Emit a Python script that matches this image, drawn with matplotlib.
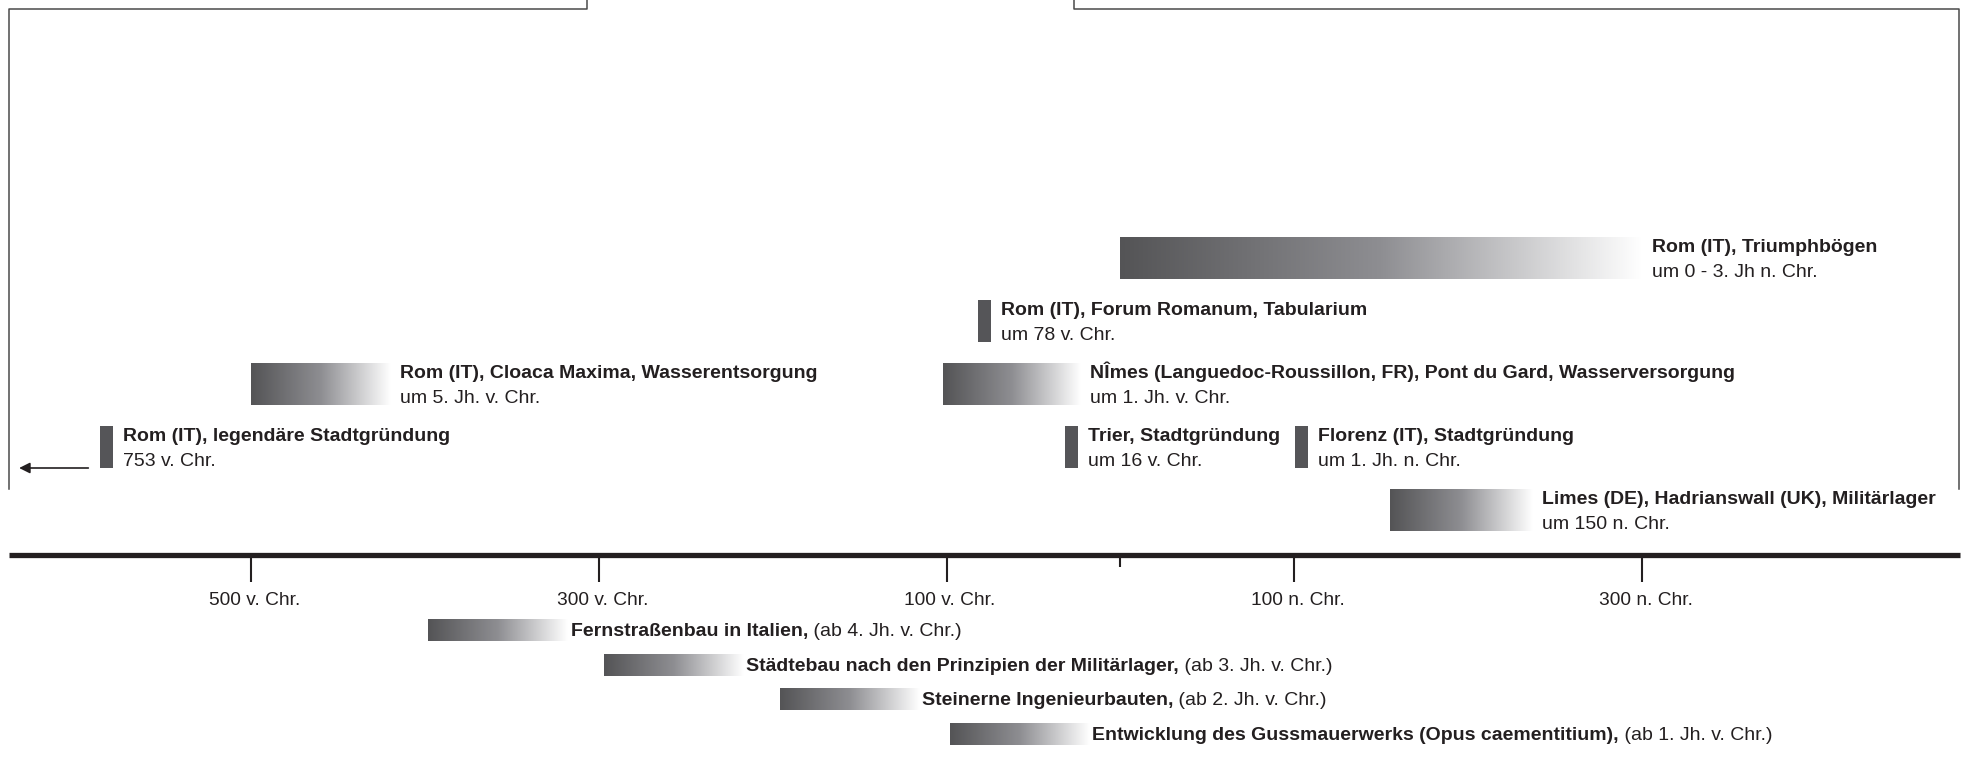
import matplotlib.pyplot as plt
import matplotlib.transforms as mtransforms
import numpy as np
from matplotlib.colors import LinearSegmentedColormap
from matplotlib.lines import Line2D

plt.rcParams["font.family"] = ["Liberation Sans", "DejaVu Sans"]

# events above the time line (negative = v. Chr.)
titles = [
    "Rom (IT), legendäre Stadtgründung",
    "Rom (IT), Cloaca Maxima, Wasserentsorgung",
    "Rom (IT), Forum Romanum, Tabularium",
    "NÎmes (Languedoc-Roussillon, FR), Pont du Gard, Wasserversorgung",
    "Trier, Stadtgründung",
    "Florenz (IT), Stadtgründung",
    "Rom (IT), Triumphbögen",
    "Limes (DE), Hadrianswall (UK), Militärlager",
]
dates = [
    "753 v. Chr.",
    "um 5. Jh. v. Chr.",
    "um 78 v. Chr.",
    "um 1. Jh. v. Chr.",
    "um 16 v. Chr.",
    "um 1. Jh. n. Chr.",
    "um 0 - 3. Jh n. Chr.",
    "um 150 n. Chr.",
]
starts = [-583, -500, -78, -102, -28, 104, 0, 155]
ends = [None, -420, None, -23, None, None, 300, 237]   # None = single point
levels = [1, 2, 3, 2, 1, 1, 4, 0]
off_scale = [True, False, False, False, False, False, False, False]

# developments below the time line
dev_titles = [
    "Fernstraßenbau in Italien,",
    "Städtebau nach den Prinzipien der Militärlager,",
    "Steinerne Ingenieurbauten,",
    "Entwicklung des Gussmauerwerks (Opus caementitium),",
]
dev_notes = [
    "(ab 4. Jh. v. Chr.)",
    "(ab 3. Jh. v. Chr.)",
    "(ab 2. Jh. v. Chr.)",
    "(ab 1. Jh. v. Chr.)",
]
dev_starts = [-398, -297, -196, -98]
dev_ends = [-318, -217, -116, -18]

tick_years = [-500, -300, -100, 100, 300]
tick_labels = ["500 v. Chr.", "300 v. Chr.", "100 v. Chr.", "100 n. Chr.", "300 n. Chr."]

W, H = 1967, 758
fig = plt.figure(figsize=(W / 100, H / 100), dpi=100)
ax = fig.add_axes([0, 0, 1, 1])
ax.set_xlim(-644.4, 486.9)
ax.set_ylim(H, 0)   # vertical layout in pixels
ax.axis("off")

ink = "#231f20"
bar_col = "#555558"
grad = LinearSegmentedColormap.from_list("fade", ["#545456", "#8e8e92", "#ffffff"])
ramp = np.linspace(0, 1, 256).reshape(1, -1)
txt_off = mtransforms.offset_copy(ax.transData, fig, x=10, units="dots")
dev_off = mtransforms.offset_copy(ax.transData, fig, x=3, units="dots")
fs = 14

axis_y = 555
row_gap = 63
bar_h = 42

# frame lines at the top
def px_line(xs, ys):
    fig.add_artist(Line2D([x / W for x in xs], [1 - y / H for y in ys],
                          transform=fig.transFigure, color="#4a4a4a", lw=1.1))

px_line([587, 587, 9, 9], [0, 9, 9, 489])
px_line([1074, 1074, 1959, 1959], [0, 9, 9, 489])

# time axis
ax.plot([-639, 482.9], [axis_y, axis_y], color=ink, lw=3.8, solid_capstyle="butt")
ax.vlines(tick_years, axis_y, axis_y + 27, color=ink, lw=1.5)
ax.vlines([0], axis_y, axis_y + 12, color=ink, lw=1.5)
for yr, lab in zip(tick_years, tick_labels):
    ax.text(yr + 2, axis_y + 50, lab, ha="center", va="baseline", fontsize=13.8, color=ink)

# events
for t, d, s, e, lv, off in zip(titles, dates, starts, ends, levels, off_scale):
    yc = 510 - row_gap * lv
    if e is None:
        ax.bar(s, bar_h, bottom=yc - bar_h / 2, width=7.5, color=bar_col)
        x_txt = s + 3.75
    else:
        ax.imshow(ramp, cmap=grad, extent=[s, e, yc + bar_h / 2, yc - bar_h / 2],
                  aspect="auto", interpolation="bilinear")
        x_txt = e
    ax.text(x_txt, yc - 6, t, transform=txt_off, fontsize=fs, fontweight="bold",
            color=ink, va="baseline")
    ax.text(x_txt, yc + 19, d, transform=txt_off, fontsize=fs, color=ink, va="baseline")
    if off:
        ax.annotate("", xy=(-635, yc + bar_h / 2), xytext=(-592, yc + bar_h / 2),
                    arrowprops=dict(arrowstyle="-|>", color=ink, lw=1.2, mutation_scale=16))

# developments
for i, (t, n, s, e) in enumerate(zip(dev_titles, dev_notes, dev_starts, dev_ends)):
    yc = 630 + 34.7 * i
    ax.imshow(ramp, cmap=grad, extent=[s, e, yc + 11, yc - 11],
              aspect="auto", interpolation="bilinear")
    tt = ax.text(e, yc + 6, t, transform=dev_off, fontsize=fs, fontweight="bold",
                 color=ink, va="baseline")
    ax.annotate(" " + n, xy=(1, 0), xycoords=tt, fontsize=fs, color=ink,
                ha="left", va="bottom")

ax.set_xlim(-644.4, 486.9)
ax.set_ylim(H, 0)
fig.savefig("out.png", dpi=100)
